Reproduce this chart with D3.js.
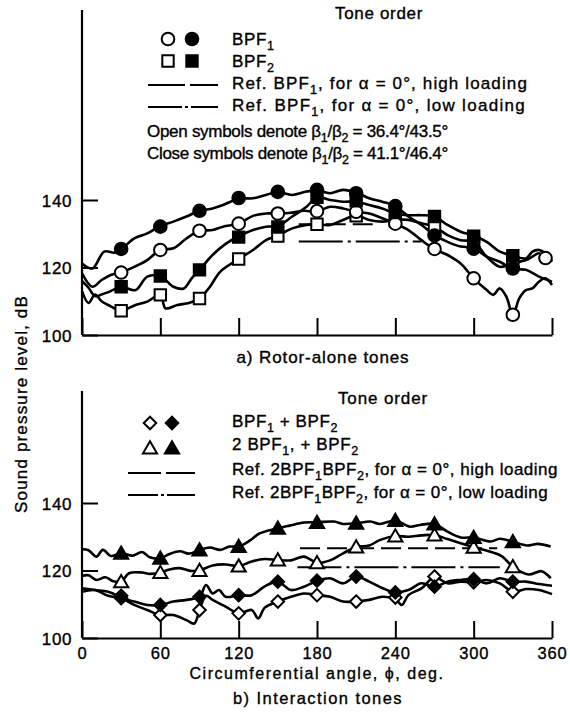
<!DOCTYPE html>
<html><head><meta charset="utf-8">
<script src="https://cdn.jsdelivr.net/npm/d3@7"></script>
<style>
html,body{margin:0;padding:0;background:#fff;}
svg{display:block;}
text{font-family:'Liberation Sans',Arial,Helvetica,sans-serif;fill:#000;stroke:#000;stroke-width:0.35px;}
</style></head>
<body>
<svg id="chart" width="570" height="723"></svg>
<script>
// ---------------- DATA ----------------
const angleTicks = [0, 60, 120, 180, 240, 300, 360];
const yTickValues = [100, 120, 140];
const markerAngles = [30, 60, 90, 120, 150, 180, 210, 240, 270, 300, 330];

// a) Rotor-alone tones — traces [angle, dB]
const bpf1ClosedCurve = [[0,121.2],[8,119.7],[17,124.7],[25,124.4],[30,125.4],[40,128.6],[50,130.1],[60,132.3],[70,133.6],[80,135.1],[90,136.8],[100,137.5],[108,138.5],[120,140.4],[131,140.5],[138,141.2],[150,142.3],[161,141.5],[172,142.5],[180,142.8],[190,142.0],[200,143.0],[210,142.2],[220,140.5],[230,139.5],[240,138.2],[250,135.1],[260,132.6],[270,129.6],[280,127.6],[290,126.2],[300,125.8],[310,123.2],[320,121.7],[330,119.6],[340,119.3],[350,117.3],[360,115.8]];
const bpf1OpenCurve = [[0,118.3],[8,114.3],[15,116.3],[22,117.8],[30,118.6],[40,120.2],[50,122.2],[60,125.2],[70,125.7],[80,128.6],[90,130.8],[100,131.1],[108,132.1],[120,133.0],[131,135.3],[141,136.0],[150,136.0],[160,136.2],[170,136.8],[180,136.6],[190,138.0],[200,137.5],[210,136.5],[220,136.0],[230,134.6],[240,133.0],[250,131.1],[260,128.1],[270,125.4],[280,123.7],[290,121.2],[300,116.8],[310,113.3],[315,111.9],[320,113.8],[325,111.4],[330,106.0],[335,110.9],[340,113.3],[345,113.8],[350,115.8],[355,116.8],[360,114.8]];
const bpf2ClosedCurve = [[0,116.0],[5,114.0],[10,111.5],[15,112.0],[22,113.0],[30,114.3],[41,113.3],[50,117.3],[60,117.5],[70,114.3],[78,113.8],[84,116.8],[90,119.3],[100,123.7],[110,127.0],[120,129.2],[131,131.1],[141,132.1],[150,132.3],[161,135.1],[172,138.0],[180,140.8],[190,140.0],[200,139.5],[210,139.5],[220,138.5],[230,137.5],[240,136.0],[250,135.5],[260,135.5],[270,135.1],[280,132.6],[290,130.6],[300,129.4],[310,127.6],[320,124.7],[330,123.5],[340,122.7],[345,124.7],[350,125.2],[355,124.2],[360,121.7]];
const bpf2OpenCurve = [[0,113.0],[5,109.5],[10,112.0],[15,110.0],[22,108.5],[30,107.2],[41,108.9],[50,109.9],[60,111.9],[64,107.9],[73,108.9],[82,109.5],[90,110.8],[98,114.3],[106,118.8],[120,122.5],[131,125.2],[141,128.1],[150,129.4],[161,131.6],[172,132.6],[180,132.8],[190,132.6],[200,134.1],[210,135.4],[220,134.1],[230,133.6],[240,134.1],[250,134.1],[260,133.1],[270,132.1],[280,129.6],[290,128.1],[300,127.6],[310,123.2],[320,120.2],[330,121.2],[340,122.2],[345,123.2],[350,124.2],[355,123.0],[360,122.0]];

// a) marker values at markerAngles
const bpf1ClosedMarks = [125.5,132.1,136.8,140.6,142.4,143.0,142.0,138.2,129.5,125.6,119.7];
const bpf1OpenMarks   = [118.5,125.2,130.9,133.0,136.0,136.7,136.5,133.0,125.5,116.8,106.0];
const bpf2ClosedMarks = [114.3,117.5,119.3,129.0,132.0,140.8,139.8,136.3,135.1,129.3,123.5];
const bpf2OpenMarks   = [107.2,111.9,110.8,122.5,129.3,132.8,135.3,134.0,132.2,127.6,121.3];
const extraOpenCircle = [[355,122.8]];

// a) reference levels [startAngle, endAngle, dB]
const refBpf1High = [166, 228, 132.8];
const refBpf1Low  = [166, 260, 127.7];

// b) Interaction tones — traces
const sumClosedCurve = [[0,113.7],[10,114.2],[20,112.5],[30,111.8],[40,110.8],[50,109.8],[60,109.8],[70,110.8],[80,111.3],[90,112.2],[95,115.7],[100,113.2],[105,114.2],[110,112.2],[120,112.7],[130,112.7],[140,115.3],[150,116.7],[160,114.2],[170,115.2],[180,116.9],[190,117.7],[200,116.2],[210,118.2],[220,116.7],[230,114.8],[240,113.5],[250,114.2],[260,116.2],[270,115.2],[280,116.7],[290,117.2],[300,117.4],[310,116.2],[320,117.7],[330,116.7],[340,116.7],[350,116.0],[360,115.5]];
const sumOpenCurve = [[0,114.7],[10,114.2],[20,113.7],[30,112.0],[40,109.8],[50,108.3],[60,106.8],[70,106.8],[80,105.3],[86,104.3],[90,108.3],[95,112.5],[100,111.3],[110,109.3],[120,107.3],[130,108.3],[135,105.8],[140,109.0],[150,110.8],[160,112.2],[170,113.2],[180,112.7],[190,112.2],[200,110.8],[210,110.8],[220,111.3],[230,112.2],[240,111.5],[245,109.8],[250,112.7],[260,114.7],[270,118.0],[280,116.2],[290,116.7],[300,116.5],[310,117.2],[320,116.2],[330,113.7],[340,114.5],[350,114.2],[360,113.0]];
const twoClosedCurve = [[0,126.3],[5,126.0],[11,124.1],[16,126.1],[22,124.3],[30,125.1],[39,124.4],[46,125.5],[52,123.9],[60,123.6],[67,124.9],[75,125.7],[82,125.0],[90,126.1],[98,126.8],[106,126.1],[113,127.1],[120,127.1],[129,129.0],[136,131.0],[150,132.5],[159,133.3],[170,134.2],[180,134.3],[193,134.5],[200,133.8],[210,134.0],[221,134.5],[228,133.8],[240,134.8],[251,133.0],[259,133.5],[270,133.8],[280,131.5],[290,129.8],[300,129.8],[313,128.6],[320,129.4],[330,128.5],[341,127.4],[349,127.9],[359,127.1]];
const twoOpenCurve = [[0,118.4],[5,118.6],[11,117.2],[18,118.0],[24,116.8],[30,116.7],[36,119.2],[46,119.4],[52,119.0],[60,119.4],[67,120.3],[75,120.7],[83,119.9],[90,120.0],[100,121.5],[110,121.8],[120,121.3],[130,122.7],[140,123.4],[150,123.1],[160,123.0],[170,124.1],[180,122.3],[190,123.0],[200,125.1],[210,127.0],[220,127.4],[228,129.0],[240,130.2],[250,130.0],[260,130.4],[270,130.5],[280,129.3],[290,128.1],[300,126.9],[315,125.3],[322,124.1],[330,121.1],[342,118.8],[352,119.8],[359,117.7]];

// b) marker values at markerAngles
const sumClosedMarks = [111.8,109.8,112.2,112.7,116.7,117.0,118.2,113.5,115.2,117.4,116.7];
const sumOpenMarks   = [112.5,106.8,108.3,107.3,110.8,112.7,110.8,112.0,118.2,116.5,113.7];
const twoClosedMarks = [125.1,123.6,126.1,127.1,132.5,134.2,134.0,134.8,133.8,129.8,128.5];
const twoOpenMarks   = [116.7,119.4,120.0,121.3,123.1,122.3,127.0,130.2,130.5,126.9,121.1];

// b) reference levels
const ref2High = [167, 318, 126.6];
const ref2Low  = [165, 320, 121.0];

// ---------------- DRAW ----------------
const svg = d3.select("#chart");
const FS = 17;
const x = d3.scaleLinear().domain([0, 360]).range([82, 552]);
const yTop = d3.scaleLinear().domain([100, 140]).range([335, 200]);
const yBot = d3.scaleLinear().domain([100, 140]).range([638, 503]);

function richText(g, px, py, parts, anchor, fs) {
  const size = fs || FS;
  const t = g.append("text").attr("x", px).attr("y", py)
    .attr("font-size", size).attr("text-anchor", anchor || "start");
  let shifted = false;
  parts.forEach(p => {
    const s = p[0], sub = p[1];
    const ts = t.append("tspan").text(s);
    if (sub) {
      ts.attr("font-size", 12.5);
      if (!shifted) { ts.attr("dy", 5); shifted = true; }
    } else if (shifted) { ts.attr("dy", -5); shifted = false; }
  });
  return t;
}
function fit(t, w) {
  const n = t.text().length;
  const cur = t.node().getComputedTextLength();
  t.attr("letter-spacing", ((w - cur) / n).toFixed(3));
  return t;
}

// custom symbols (diamond equal in width/height, compact triangle)
const diamondSym = { draw(ctx, size) { const r = Math.sqrt(size) / 2 * 1.25;
  ctx.moveTo(0, -r); ctx.lineTo(r, 0); ctx.lineTo(0, r); ctx.lineTo(-r, 0); ctx.closePath(); } };
const triSym = { draw(ctx, size) { const h = Math.sqrt(size); const w = h * 0.58;
  ctx.moveTo(0, -h * 0.55); ctx.lineTo(w, h * 0.45); ctx.lineTo(-w, h * 0.45); ctx.closePath(); } };
const symPath = {
  circle: d3.symbol().type(d3.symbolCircle).size(125),
  square: d3.symbol().type(d3.symbolSquare).size(130),
  diamond: d3.symbol().type(diamondSym).size(100),
  triangle: d3.symbol().type(triSym).size(150)
};
function marker(g, px, py, type, filled) {
  g.append("path").attr("d", symPath[type]())
    .attr("transform", `translate(${px},${py})`)
    .attr("fill", filled ? "#000" : "#fff")
    .attr("stroke", "#000").attr("stroke-width", 2).attr("stroke-linejoin", "miter");
}

function panel(y, yAxisTop, showXLabels) {
  const g = svg.append("g");
  g.append("line").attr("x1", x(0)).attr("x2", x(0))
    .attr("y1", yAxisTop).attr("y2", y(100))
    .attr("stroke", "#000").attr("stroke-width", 2.2);
  const ya = d3.axisLeft(y).tickValues(yTickValues).tickSize(-16).tickSizeOuter(0).tickPadding(26);
  const yg = g.append("g").attr("transform", `translate(${x(0)},0)`).call(ya);
  yg.select(".domain").remove();
  yg.selectAll("line").attr("stroke-width", 2);
  yg.selectAll("text").attr("font-size", FS).attr("font-family", null)
    .attr("letter-spacing", 0.6).attr("dy", "0.36em").attr("x", -10);
  const xa = d3.axisBottom(x).tickValues(angleTicks).tickSize(-17).tickSizeOuter(0).tickPadding(9);
  const xg = g.append("g").attr("transform", `translate(0,${y(100)})`).call(xa);
  xg.select(".domain").attr("stroke-width", 2.2);
  xg.selectAll("line").attr("stroke-width", 2);
  if (showXLabels) {
    xg.selectAll("text").attr("font-size", 16.5).attr("font-family", null).attr("letter-spacing", 0.8)
      .attr("dy", "0.71em");
  } else xg.selectAll("text").remove();
  return g;
}

const line = (y) => d3.line().x(d => x(d[0])).y(d => y(d[1])).curve(d3.curveCatmullRom.alpha(0.5));

function drawCurve(g, y, data) {
  g.append("path").datum(data).attr("d", line(y))
    .attr("fill", "none").attr("stroke", "#000").attr("stroke-width", 2.6)
    .attr("stroke-linejoin", "round");
}
function drawRef(g, y, r, dash) {
  g.append("line").attr("x1", x(r[0])).attr("x2", x(r[1]))
    .attr("y1", y(r[2])).attr("y2", y(r[2]))
    .attr("stroke", "#000").attr("stroke-width", 2).attr("stroke-dasharray", dash);
}
function drawMarks(g, y, vals, type, filled) {
  vals.forEach((v, i) => marker(g, x(markerAngles[i]), y(v), type, filled));
}

const HIGH_DASH = "20,7";
const LOW_DASH = "44,5,3,5";

// ===== Panel a =====
const ga = panel(yTop, 10, false);
drawRef(ga, yTop, refBpf1High, HIGH_DASH);
drawRef(ga, yTop, refBpf1Low, LOW_DASH);
[bpf2OpenCurve, bpf2ClosedCurve, bpf1OpenCurve, bpf1ClosedCurve].forEach(c => drawCurve(ga, yTop, c));
drawMarks(ga, yTop, bpf2OpenMarks, "square", false);
drawMarks(ga, yTop, bpf1OpenMarks, "circle", false);
extraOpenCircle.forEach(d => marker(ga, x(d[0]), yTop(d[1]), "circle", false));
drawMarks(ga, yTop, bpf2ClosedMarks, "square", true);
drawMarks(ga, yTop, bpf1ClosedMarks, "circle", true);

fit(richText(ga, 379, 19, [["Tone order"]], "middle"), 88);
marker(ga, 168, 39, "circle", false); marker(ga, 192, 39, "circle", true);
marker(ga, 168, 61, "square", false); marker(ga, 192, 61, "square", true);
richText(ga, 232, 45, [["BPF"], ["1", 1]]).attr("letter-spacing", 0.6);
richText(ga, 232, 67, [["BPF"], ["2", 1]]).attr("letter-spacing", 0.6);
ga.append("line").attr("x1", 148).attr("x2", 218).attr("y1", 85).attr("y2", 85)
  .attr("stroke", "#000").attr("stroke-width", 2).attr("stroke-dasharray", "37,5");
ga.append("line").attr("x1", 148).attr("x2", 218).attr("y1", 107).attr("y2", 107)
  .attr("stroke", "#000").attr("stroke-width", 2).attr("stroke-dasharray", "34,3,3,3");
fit(richText(ga, 232, 89, [["Ref. BPF"], ["1", 1], [", for α = 0°, high loading"]]), 296);
fit(richText(ga, 232, 111, [["Ref. BPF"], ["1", 1], [", for α = 0°, low loading"]]), 294);
fit(richText(ga, 147, 137, [["Open symbols denote β"], ["1", 1], ["/β"], ["2", 1], [" = 36.4°/43.5°"]]), 301);
fit(richText(ga, 147, 159, [["Close symbols denote β"], ["1", 1], ["/β"], ["2", 1], [" = 41.1°/46.4°"]]), 301);
fit(richText(ga, 323, 363, [["a) Rotor-alone tones"]], "middle"), 173);

// ===== Panel b =====
const gb = panel(yBot, 391, true);
drawRef(gb, yBot, ref2High, HIGH_DASH);
drawRef(gb, yBot, ref2Low, LOW_DASH);
[sumOpenCurve, sumClosedCurve, twoOpenCurve, twoClosedCurve].forEach(c => drawCurve(gb, yBot, c));
drawMarks(gb, yBot, sumOpenMarks, "diamond", false);
drawMarks(gb, yBot, twoOpenMarks, "triangle", false);
drawMarks(gb, yBot, sumClosedMarks, "diamond", true);
drawMarks(gb, yBot, twoClosedMarks, "triangle", true);

fit(richText(gb, 383, 404, [["Tone order"]], "middle"), 90);
marker(gb, 150, 423, "diamond", false); marker(gb, 172, 423, "diamond", true);
marker(gb, 150, 448, "triangle", false); marker(gb, 172, 448, "triangle", true);
richText(gb, 232, 427, [["BPF"], ["1", 1], [" + BPF"], ["2", 1]]).attr("letter-spacing", 0.6);
richText(gb, 232, 450, [["2 BPF"], ["1", 1], [", + BPF"], ["2", 1]]).attr("letter-spacing", 0.6);
gb.append("line").attr("x1", 128).attr("x2", 195).attr("y1", 473).attr("y2", 473)
  .attr("stroke", "#000").attr("stroke-width", 2).attr("stroke-dasharray", "33,5");
gb.append("line").attr("x1", 128).attr("x2", 195).attr("y1", 495).attr("y2", 495)
  .attr("stroke", "#000").attr("stroke-width", 2).attr("stroke-dasharray", "30,3,3,3");
fit(richText(gb, 232, 475, [["Ref. 2BPF"], ["1", 1], ["BPF"], ["2", 1], [", for α = 0°, high loading"]]), 326);
fit(richText(gb, 232, 498, [["Ref. 2BPF"], ["1", 1], ["BPF"], ["2", 1], [", for α = 0°, low loading"]]), 316);

fit(richText(svg, 317, 679, [["Circumferential angle, ϕ, deg."]], "middle", 16), 255);
fit(richText(svg, 318, 704, [["b) Interaction tones"]], "middle", 16.5), 170);

const yt = richText(svg, 0, 0, [["Sound pressure level, dB"]], "middle")
  .attr("transform", "translate(27,404) rotate(-90)");
fit(yt, 218);
</script>
</body></html>
